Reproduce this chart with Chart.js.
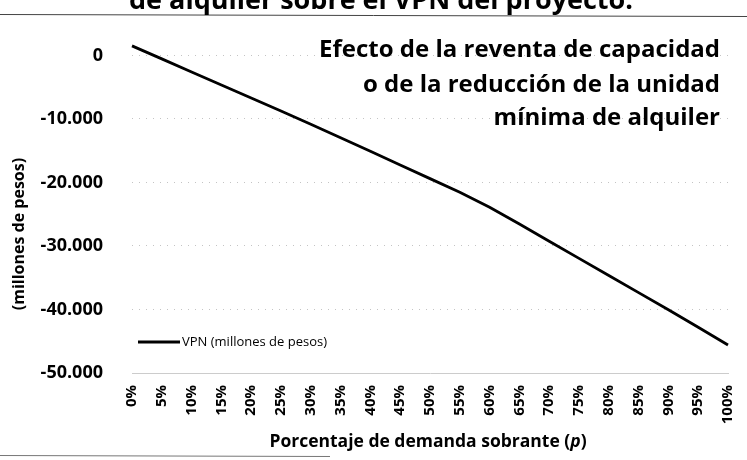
<!DOCTYPE html>
<html>
<head>
<meta charset="utf-8">
<script src="https://cdn.jsdelivr.net/npm/chart.js@4/dist/chart.umd.min.js"></script>
<style>
  html, body { margin: 0; padding: 0; background: #ffffff; }
  #wrap { width: 747px; height: 460px; }
</style>
</head>
<body>
<div id="wrap"><canvas id="c" width="747" height="460"></canvas></div>
<script>
const categories = ['0%','5%','10%','15%','20%','25%','30%','35%','40%','45%','50%','55%','60%','65%','70%','75%','80%','85%','90%','95%','100%'];
const vpnValues = [1500, -550, -2600, -4650, -6700, -8750, -10850, -12950, -15100, -17250, -19400, -21550, -23900, -26550, -29250, -31950, -34650, -37350, -40050, -42800, -45600];
const yTickValues = [0, -10000, -20000, -30000, -40000, -50000];
const seriesLabel = 'VPN (millones de pesos)';
const topTitle = 'de alquiler sobre el VPN del proyecto.';
const noteLines = ['Efecto de la reventa de capacidad', 'o de la reducción de la unidad', 'mínima de alquiler'];
const yTitle = '(millones de pesos)';
const xTitleParts = ['Porcentaje de demanda sobrante (', 'p', ')'];

const FONT = '"Open Sans", "Liberation Sans", sans-serif';

function fmt(v) {
  const s = Math.abs(v).toString().replace(/\B(?=(\d{3})+(?!\d))/g, '.');
  return (v < 0 ? '-' : '') + s;
}

const decor = {
  id: 'decor',
  beforeDraw(chart) {
    const ctx = chart.ctx;
    ctx.save();
    ctx.fillStyle = '#ffffff';
    ctx.fillRect(0, 0, chart.width, chart.height);
    ctx.strokeStyle = '#444';
    ctx.lineWidth = 1;
    ctx.beginPath();
    ctx.moveTo(0, 14.5); ctx.lineTo(747, 16.5);
    ctx.stroke();
    ctx.strokeStyle = '#777';
    ctx.beginPath();
    ctx.moveTo(0, 455.5); ctx.lineTo(330, 456.5);
    ctx.stroke();
    ctx.restore();
  },
  afterDraw(chart) {
    const ctx = chart.ctx;
    ctx.save();
    ctx.fillStyle = '#000';
    ctx.font = 'bold 27px ' + FONT;
    ctx.textAlign = 'center';
    ctx.textBaseline = 'alphabetic';
    ctx.fillText(topTitle, 381, 9);
    ctx.font = 'bold 24px ' + FONT;
    ctx.textAlign = 'right';
    ctx.textBaseline = 'middle';
    const ys = [50, 85, 118];
    noteLines.forEach((t, i) => ctx.fillText(t, 720, ys[i]));
    ctx.strokeStyle = '#000';
    ctx.lineWidth = 3;
    ctx.beginPath();
    ctx.moveTo(138, 342); ctx.lineTo(180, 342);
    ctx.stroke();
    ctx.font = '13px ' + FONT;
    ctx.textAlign = 'left';
    ctx.fillText(chart.data.datasets[0].label, 182, 342);
    ctx.save();
    ctx.translate(19, 234);
    ctx.rotate(-Math.PI / 2);
    ctx.font = 'bold 16px ' + FONT;
    ctx.textAlign = 'center';
    ctx.fillText(yTitle, 0, 0);
    ctx.restore();
    const fonts = ['bold 17.5px ' + FONT, 'italic bold 17.5px ' + FONT, 'bold 17.5px ' + FONT];
    let total = 0;
    const widths = xTitleParts.map((p, i) => { ctx.font = fonts[i]; const w = ctx.measureText(p).width; total += w; return w; });
    let x = 428 - total / 2;
    ctx.textAlign = 'left';
    xTitleParts.forEach((p, i) => { ctx.font = fonts[i]; ctx.fillText(p, x, 442); x += widths[i]; });
    ctx.restore();
  }
};

new Chart(document.getElementById('c'), {
  type: 'line',
  data: {
    labels: categories,
    datasets: [{
      label: seriesLabel,
      data: vpnValues,
      borderColor: '#000',
      borderWidth: 2.8,
      pointRadius: 0,
      tension: 0,
      fill: false
    }]
  },
  options: {
    responsive: false,
    animation: false,
    devicePixelRatio: 1,
    layout: { padding: { top: 30, right: 19, left: 0, bottom: 0 } },
    plugins: { legend: { display: false }, title: { display: false }, tooltip: { enabled: false } },
    scales: {
      x: {
        grid: { display: false, drawTicks: true, tickLength: 12, tickColor: 'rgba(0,0,0,0)' },
        border: { display: true, color: '#cccccc', dash: [1, 6] },
        ticks: {
          autoSkip: false, maxRotation: 90, minRotation: 90, padding: 0,
          color: '#000', font: { family: FONT, weight: 'bold', size: 15 }
        },
        afterFit(scale) { scale.height = 87; }
      },
      y: {
        min: -50000, max: 4000,
        grid: { color: '#c4c4c4', drawTicks: true, tickLength: 29, tickColor: 'rgba(0,0,0,0)', lineWidth: 1 },
        border: { display: false, dash: [1, 6] },
        afterBuildTicks(scale) { scale.ticks = yTickValues.map(v => ({ value: v })); },
        ticks: {
          padding: 0, color: '#000',
          font: { family: FONT, weight: 'bold', size: 18 },
          callback: (v) => fmt(v)
        },
        afterFit(scale) { scale.width = 132; }
      }
    }
  },
  plugins: [decor]
});
</script>
</body>
</html>
